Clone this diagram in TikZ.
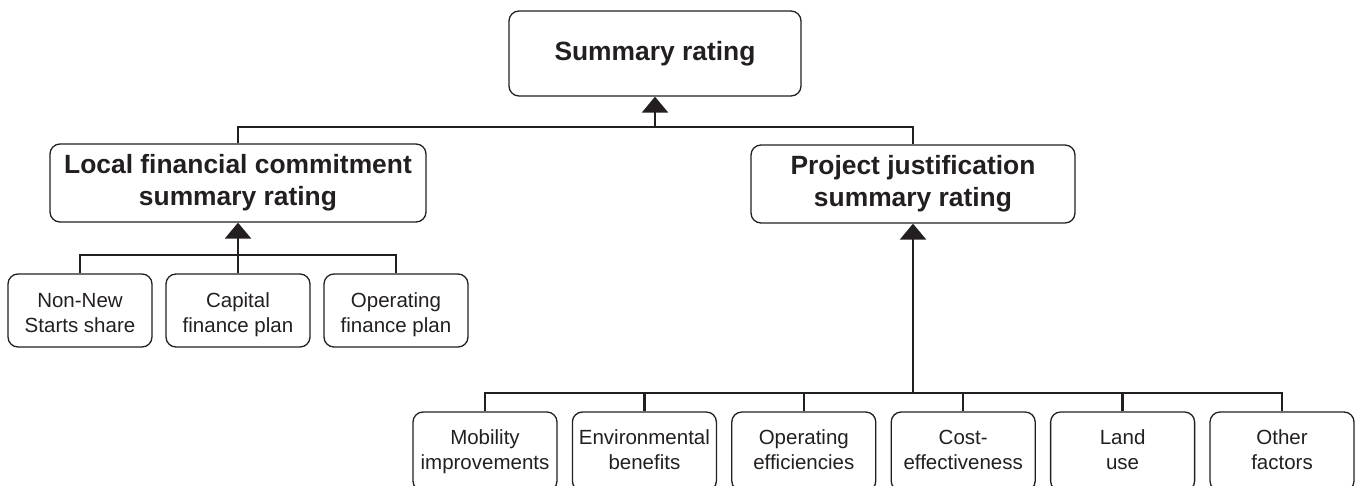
\documentclass[tikz,border=0pt]{standalone}
\usepackage{fontspec}
\setmainfont{Liberation Sans}
\usetikzlibrary{arrows.meta,calc}
\definecolor{ink}{RGB}{35,31,32}
\newcommand\liftA{\rule{0pt}{26.5pt}}
\newcommand\liftC{\rule{0pt}{18.5pt}}
\begin{document}
\begin{tikzpicture}[x=1pt,y=-1pt,
  box/.style={draw=ink, line width=1.3pt, rounded corners=10pt, align=center, inner sep=0pt, text=ink},
  bigbox/.style={box, font=\fontsize{26.4}{32}\selectfont\bfseries},
  smallbox/.style={box, minimum width=144pt, font=\fontsize{20.5}{25}\selectfont,
    execute at end node={\strut}},
  conn/.style={draw=ink, line width=2.5pt},
  arr/.style={conn, -{Triangle[width=26pt,length=16pt]}}]
\useasboundingbox (0,0) rectangle (1355,485);

% main boxes
\node[bigbox, minimum width=292pt, minimum height=85pt] (top) at (655,53.5) {Summary rating};
\node[bigbox, minimum width=376pt, minimum height=78pt] (lf) at (238,183) {Local financial commitment\\summary rating};
\node[bigbox, minimum width=324pt, minimum height=78pt] (pj) at (913,184) {Project justification\\summary rating};

% left sub boxes
\node[smallbox, minimum height=73pt] (a1) at (80,310.5) {\liftA Non-New\\Starts share};
\node[smallbox, minimum height=73pt] (a2) at (238,310.5) {\liftA Capital\\finance plan};
\node[smallbox, minimum height=73pt] (a3) at (396,310.5) {\liftA Operating\\finance plan};

% right sub boxes
\node[smallbox, minimum height=79pt] (c1) at (485,451.5) {\liftC Mobility\\improvements};
\node[smallbox, minimum height=79pt] (c2) at (644.4,451.5) {\liftC Environmental\\benefits};
\node[smallbox, minimum height=79pt] (c3) at (803.8,451.5) {\liftC Operating\\efficiencies};
\node[smallbox, minimum height=79pt] (c4) at (963.2,451.5) {\liftC Cost-\\effectiveness};
\node[smallbox, minimum height=79pt] (c5) at (1122.6,451.5) {\liftC Land\\use};
\node[smallbox, minimum height=79pt] (c6) at (1282,451.5) {\liftC Other\\factors};

% top bus
\coordinate (b0) at (655,127);
\draw[conn] (lf.north) |- (b0) -| (pj.north);
\draw[arr] (b0) -- (top.south);

% left bus
\coordinate (b1) at (238,255);
\draw[conn] (a1.north) |- (b1) -| (a3.north);
\draw[conn] (a2.north) -- (b1);
\draw[arr] (b1) -- (lf.south);

% right bus
\coordinate (b2) at (913,393);
\draw[conn] (c1.north) |- (b2) -| (c6.north);
\draw[conn] (c2.north) -- (c2.north |- b2);
\draw[conn] (c3.north) -- (c3.north |- b2);
\draw[conn] (c4.north) -- (c4.north |- b2);
\draw[conn] (c5.north) -- (c5.north |- b2);
\draw[arr] (b2) -- (pj.south);
\end{tikzpicture}
\end{document}
